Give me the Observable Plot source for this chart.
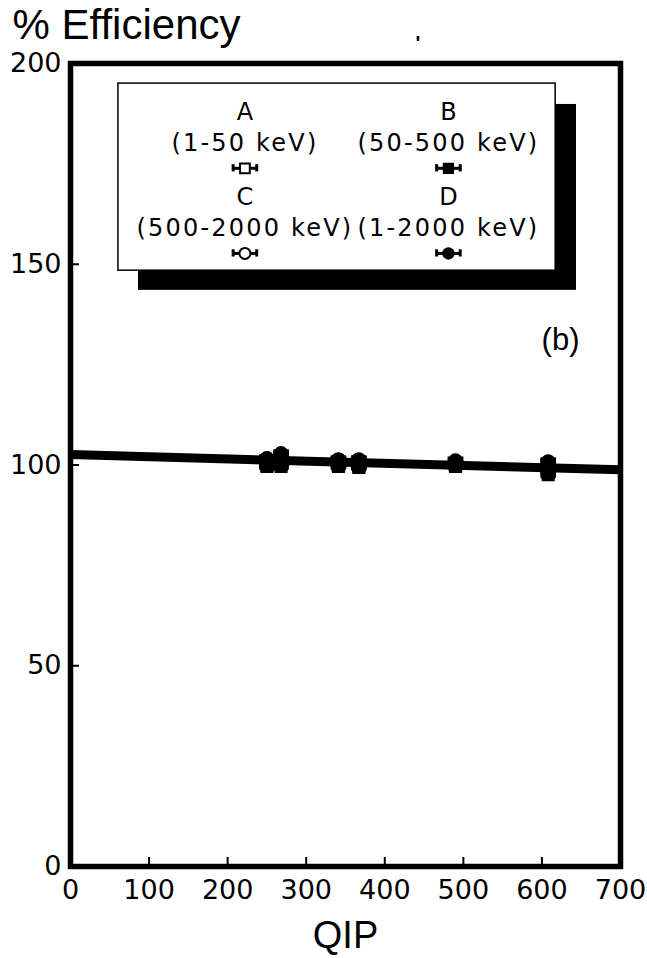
<!DOCTYPE html>
<html><head><meta charset="utf-8">
<script src="https://cdn.jsdelivr.net/npm/d3@7"></script>
<script src="https://cdn.jsdelivr.net/npm/@observablehq/plot@0.6"></script>
<style>body{margin:0;background:#fff} svg{display:block}</style>
</head><body><div id="chart"></div>
<script>
// ---- data ----
const qip = [250, 268, 341, 367, 490, 608];
const qipErr = [8, 8, 8, 8, 8, 8];
const effA = [100.0, 100.2, 100.0, 99.8, 100.0, 98.2];
const effB = [99.6, 99.6, 99.6, 99.4, 99.6, 97.6];
const effC = [101.6, 102.4, 101.2, 101.2, 100.9, 100.6];
const effD = [101.6, 102.9, 101.4, 101.4, 101.1, 100.9];
const seriesNames = ["A", "B", "C", "D"];
const seriesRanges = ["(1-50 keV)", "(50-500 keV)", "(500-2000 keV)", "(1-2000 keV)"];
const fitQip = [0, 700];
const fitEff = [102.6, 98.8];
const xTicks = [0, 100, 200, 300, 400, 500, 600, 700];
const yTicks = [0, 50, 100, 150, 200];
const panelLabel = "(b)";
const yTitle = "% Efficiency";
const xTitle = "QIP";

// ---- build tables ----
const seriesEff = [effA, effB, effC, effD];
const symbolOf = {A: "square", B: "square", C: "circle", D: "circle"};
const filledOf = {A: false, B: true, C: false, D: true};
const points = seriesNames.flatMap((s, k) => qip.map((q, i) => ({
  series: s, qip: q, eff: seriesEff[k][i], err: qipErr[i]
})));

// legend layout (QIP / % units inside the panel)
const colX = [222, 481];
const rowNameY = [187.8, 166.6];
const legend = seriesNames.map((s, i) => {
  const c = i % 2, r = Math.floor(i / 2);
  return {series: s, range: seriesRanges[i], x: colX[c], yName: rowNameY[r], yRange: rowNameY[r] - 7.7, ySym: rowNameY[r] - 13.9, err: 15};
});

const open = d => !filledOf[d.series];
const filled = d => filledOf[d.series];
const capH = 0.9;

function symMarks(data, xk, yk, ek) {
  return [
    Plot.ruleY(data, {y: yk, x1: d => d[xk] - d[ek], x2: d => d[xk] + d[ek], stroke: "black", strokeWidth: 3}),
    Plot.ruleX(data, {x: d => d[xk] - d[ek], y1: d => d[yk] - capH, y2: d => d[yk] + capH, stroke: "black", strokeWidth: 3}),
    Plot.ruleX(data, {x: d => d[xk] + d[ek], y1: d => d[yk] - capH, y2: d => d[yk] + capH, stroke: "black", strokeWidth: 3}),
  ];
}

const legendOpen = legend.filter(open), legendFilled = legend.filter(filled);
const ptsOpen = points.filter(open), ptsFilled = points.filter(filled);

const chart = Plot.plot({
  width: 647, height: 958,
  marginLeft: 70, marginRight: 27, marginTop: 63, marginBottom: 92,
  x: {domain: [0, 700]},
  y: {domain: [0, 200]},
  style: {fontFamily: "DejaVu Sans", fontSize: "27px", color: "black", background: "white"},
  marks: [
    // legend box with shadow
    Plot.rect([0], {x1: 86.5, x2: 644, y1: 143.5, y2: 189.8, fill: "black"}),
    Plot.rect([0], {x1: 61, x2: 617.5, y1: 148.4, y2: 195, fill: "white", stroke: "black", strokeWidth: 1.5}),
    Plot.text(legend, {x: "x", y: "yName", text: "series", fontFamily: "DejaVu Sans", fontSize: 24, fill: "black"}),
    Plot.text(legend, {x: "x", y: "yRange", text: "range", fontFamily: "DejaVu Sans", fontSize: 24, fill: "black"}),
    ...symMarks(legend, "x", "ySym", "err"),
    Plot.dot(legendOpen, {x: "x", y: "ySym", symbol: d => symbolOf[d.series], r: 5.5, fill: "white", stroke: "black", strokeWidth: 2}),
    Plot.dot(legendFilled, {x: "x", y: "ySym", symbol: d => symbolOf[d.series], r: 5.5, fill: "black", stroke: "black"}),
    // data
    ...symMarks(points, "qip", "eff", "err"),
    Plot.dot(ptsOpen, {x: "qip", y: "eff", symbol: d => symbolOf[d.series], r: 6.5, fill: "white", stroke: "black", strokeWidth: 2}),
    Plot.line(fitQip.map((q, i) => ({q, e: fitEff[i]})), {x: "q", y: "e", stroke: "black", strokeWidth: 9, strokeLinecap: "butt"}),
    Plot.dot(ptsFilled, {x: "qip", y: "eff", symbol: d => symbolOf[d.series], r: 6.5, fill: "black", stroke: "black"}),
    // panel label
    Plot.text([panelLabel], {frameAnchor: "top-right", lineAnchor: "middle", dx: -60, dy: 277, text: d => d, fontFamily: "Liberation Sans", fontSize: 31, textAnchor: "middle", fill: "black"}),
    // axes
    Plot.axisX({ticks: xTicks, tickSize: 0, tickPadding: 13, label: null, fontSize: 27}),
    Plot.axisX({ticks: xTicks.slice(1, -1), tickSize: -9, tickFormat: () => "", label: null, strokeWidth: 2}),
    Plot.axisY({ticks: yTicks, tickSize: 0, tickPadding: 9, label: null, fontSize: 27}),
    Plot.axisY({ticks: yTicks.slice(1, -1), tickSize: -9, tickFormat: () => "", label: null, strokeWidth: 2}),
    Plot.frame({stroke: "black", strokeWidth: 5.5}),
    // titles
    Plot.text([yTitle], {frameAnchor: "top-left", lineAnchor: "middle", dx: -58, dy: -38, text: d => d, textAnchor: "start", fontFamily: "Liberation Sans", fontSize: 42, fill: "black"}),
    Plot.text([xTitle], {frameAnchor: "bottom", lineAnchor: "middle", dx: 0, dy: 69, text: d => d, fontFamily: "Liberation Sans", fontSize: 38, fill: "black"}),
    Plot.text(["'"], {frameAnchor: "top-left", lineAnchor: "middle", dx: 345, dy: -20, text: d => d, fontFamily: "Liberation Sans", fontWeight: "bold", fontSize: 20, fill: "black"})
  ]
});
document.getElementById("chart").append(chart);
// widen legend text spacing as in the original
chart.querySelectorAll("text").forEach(t => {
  if (seriesRanges.includes(t.textContent)) t.setAttribute("letter-spacing", "2.2");
});
</script>
</body></html>
